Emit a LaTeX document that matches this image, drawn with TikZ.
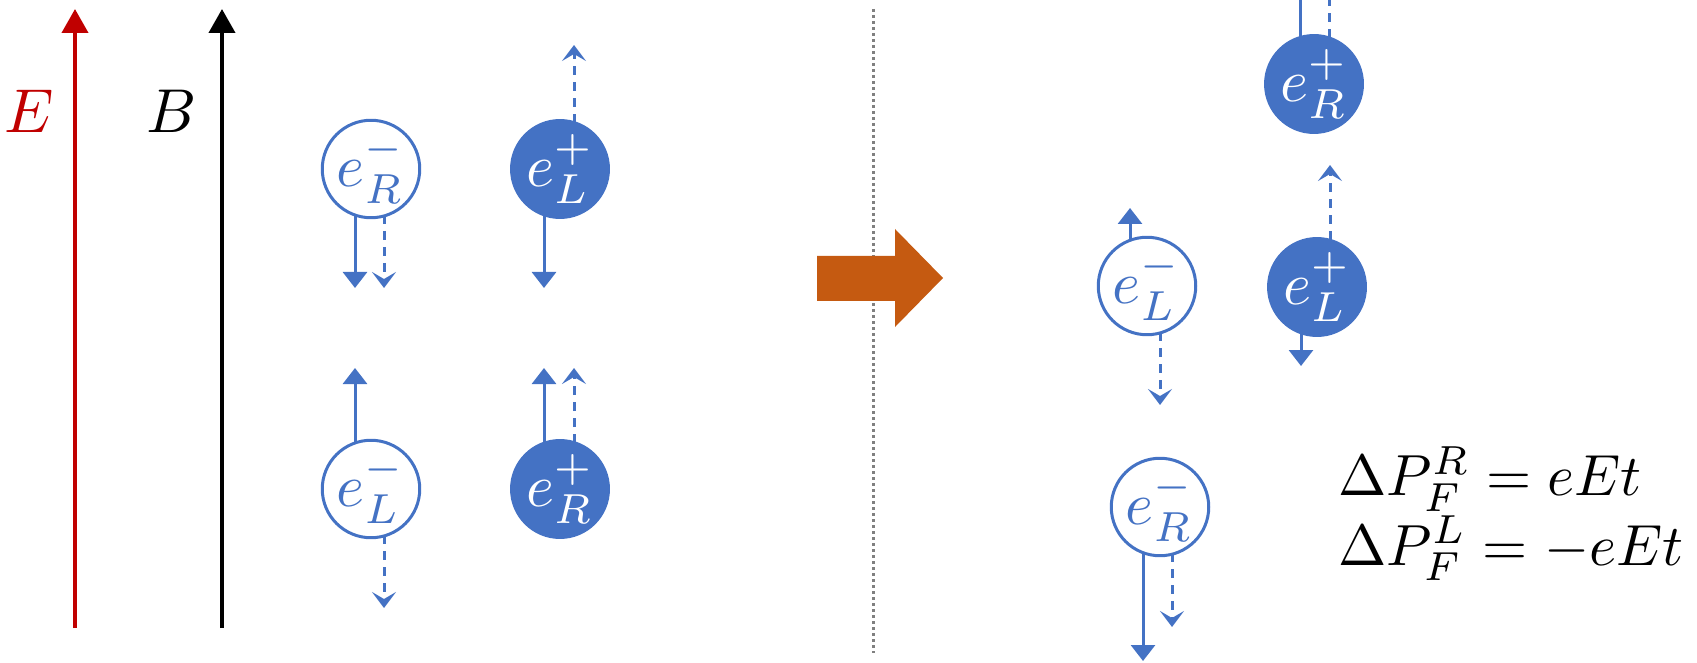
\documentclass[tikz,border=0pt]{standalone}
\usetikzlibrary{arrows.meta,calc}
\definecolor{eblue}{HTML}{4472C4}
\definecolor{ered}{HTML}{C00000}
\definecolor{eorange}{HTML}{C55A11}
\definecolor{dotgray}{HTML}{808080}
\newcommand{\mscale}[2]{\scalebox{#1}{$#2$}}
\begin{document}
\begin{tikzpicture}[x=0.5pt,y=-0.5pt,
  particle/.style={circle,minimum size=48pt,inner sep=0pt,line width=1.5pt,draw=eblue},
  electron/.style={particle,fill=white,text=eblue},
  positron/.style={particle,fill=eblue,text=white},
  spin/.style={eblue,line width=1.5pt,-{Triangle[length=8pt,width=12pt]}},
  spinline/.style={eblue,line width=1.5pt},
  mom/.style={eblue,line width=1.5pt,dash pattern=on 4.5pt off 3.5pt,
    -{Stealth[length=8pt,width=12pt,inset=3.5pt]}},
  momline/.style={eblue,line width=1.5pt,dash pattern=on 4.5pt off 3.5pt},
  field/.style={line width=2pt,-{Triangle[length=12pt,width=13pt]}},
  eqblock/.style={anchor=base west,inner sep=0pt},
]
\useasboundingbox (0,0) rectangle (1697,663);

% external fields
\coordinate (Ebot) at (75,628);
\coordinate (Etop) at (75,9);
\coordinate (Bbot) at (222,628);
\coordinate (Btop) at (222,9);
\draw[field,ered] (Ebot) -- (Etop);
\draw[field,black] (Bbot) -- (Btop);
\node[text=ered] (lblE) at (29,111) {\mscale{3.1}{E}};
\node (lblB) at (172,111) {\mscale{3.1}{B}};

% separator and process arrow
\draw[dotgray,line width=1.5pt,dash pattern=on 1.5pt off 1.5pt] (873,9) -- (873,653);
\fill[eorange] (817,256) -- (895,256) -- (895,229) -- (943,278) -- (895,327)
  -- (895,301) -- (817,301) -- cycle;

% initial state
\node[electron] (a1) at (371,169) {\mscale{3}{e_R^-}};
\node[positron] (a2) at (560,169) {\mscale{3}{e_L^+}};
\node[electron] (a3) at (371,489) {\mscale{3}{e_L^-}};
\node[positron] (a4) at (560,489) {\mscale{3}{e_R^+}};

\draw[spin] ($(a1.center)+(-16,45)$) -- ($(a1.center)+(-16,119)$);
\draw[mom]  ($(a1.center)+(13,46)$) -- ($(a1.center)+(13,119)$);
\draw[mom]  ($(a2.center)+(14,-46)$) -- ($(a2.center)+(14,-124)$);
\draw[spin] ($(a2.center)+(-16,45)$) -- ($(a2.center)+(-16,119)$);
\draw[spin] ($(a3.center)+(-16,-45)$) -- ($(a3.center)+(-16,-121)$);
\draw[mom]  ($(a3.center)+(13,46)$) -- ($(a3.center)+(13,119)$);
\draw[spin] ($(a4.center)+(-16,-45)$) -- ($(a4.center)+(-16,-121)$);
\draw[mom]  ($(a4.center)+(14,-46)$) -- ($(a4.center)+(14,-121)$);

% shifted state
\node[positron] (b1) at (1314,84) {\mscale{3}{e_R^+}};
\node[electron] (b2) at (1147,286) {\mscale{3}{e_L^-}};
\node[positron] (b3) at (1317,287) {\mscale{3}{e_L^+}};
\node[electron] (b4) at (1160,507) {\mscale{3}{e_R^-}};

\coordinate (b1s) at (1300,0);
\coordinate (b1m) at (1329,0);
\draw[spinline] ($(b1.center)+(-14,-46)$) -- (b1s);
\draw[momline]  ($(b1.center)+(15,-46)$) -- (b1m);
\draw[spin] ($(b2.center)+(-17,-45)$) -- ($(b2.center)+(-17,-78)$);
\draw[mom]  ($(b2.center)+(13,46)$) -- ($(b2.center)+(13,119)$);
\draw[mom]  ($(b3.center)+(13,-47)$) -- ($(b3.center)+(13,-122)$);
\draw[spin] ($(b3.center)+(-16,45)$) -- ($(b3.center)+(-16,79)$);
\draw[spin] ($(b4.center)+(-17,45)$) -- ($(b4.center)+(-17,154)$);
\draw[mom]  ($(b4.center)+(12,46)$) -- ($(b4.center)+(12,120)$);

% Fermi momentum shifts
\node[eqblock] (eq) at (1338,565) {\scalebox{2.9}{\vbox{\baselineskip=11.9pt\lineskiplimit=-20pt
  \hbox{$\Delta P_F^R = eEt$}\hbox{$\Delta P_F^L = -eEt$}}}};
\end{tikzpicture}
\end{document}
